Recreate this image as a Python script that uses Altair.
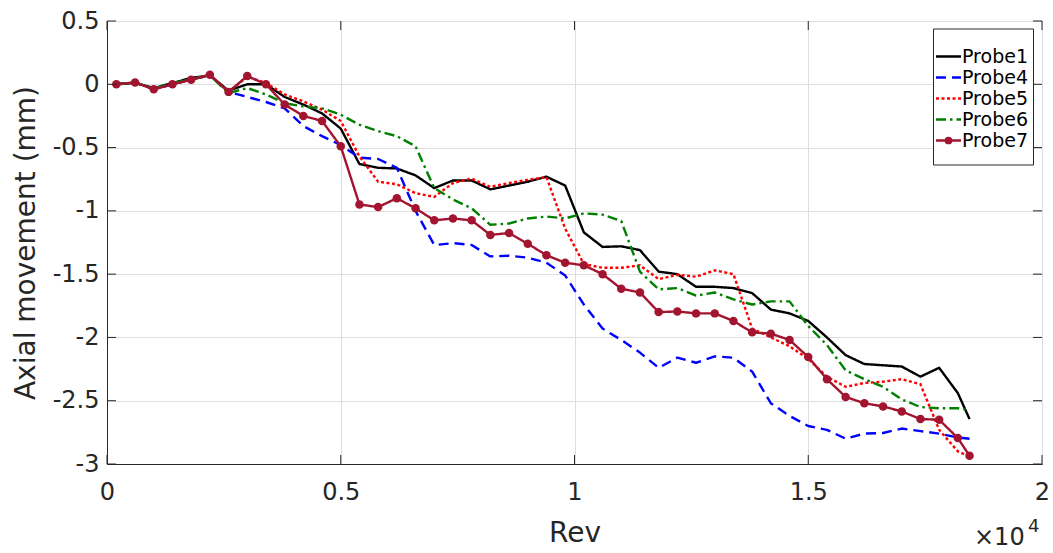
import altair as alt
import pandas as pd

# ---------------- data ----------------
rev = [200, 600, 1000, 1400, 1800, 2200, 2600, 3000, 3400, 3800, 4200, 4600,
       5000, 5400, 5800, 6200, 6600, 7000, 7400, 7800, 8200, 8600, 9000, 9400,
       9800, 10200, 10600, 11000, 11400, 11800, 12200, 12600, 13000, 13400,
       13800, 14200, 14600, 15000, 15400, 15800, 16200, 16600, 17000, 17400,
       17800, 18200, 18450]

probe1 = [0, 0.01, -0.03, 0.01, 0.05, 0.07, -0.05, 0.0, 0.0, -0.10, -0.16, -0.23,
          -0.35, -0.63, -0.66, -0.665, -0.72, -0.82, -0.76, -0.76, -0.83, -0.80,
          -0.77, -0.73, -0.80, -1.17, -1.285, -1.28, -1.31, -1.48, -1.50, -1.60,
          -1.60, -1.61, -1.65, -1.78, -1.81, -1.87, -2.0, -2.14, -2.21, -2.22,
          -2.23, -2.31, -2.24, -2.44, -2.645]
probe4 = [0, 0.015, -0.04, 0.0, 0.04, 0.07, -0.06, -0.10, -0.14, -0.19, -0.33, -0.41,
          -0.48, -0.58, -0.59, -0.66, -1.0, -1.27, -1.255, -1.27, -1.36, -1.355,
          -1.37, -1.41, -1.51, -1.74, -1.93, -2.02, -2.12, -2.24, -2.16, -2.20,
          -2.15, -2.16, -2.27, -2.52, -2.62, -2.70, -2.73, -2.80, -2.76, -2.755,
          -2.72, -2.74, -2.76, -2.79, -2.80]
probe5 = [0, 0.015, -0.04, 0.0, 0.04, 0.075, -0.06, 0.06, 0.01, -0.08, -0.135, -0.2,
          -0.29, -0.57, -0.77, -0.79, -0.86, -0.89, -0.78, -0.745, -0.81, -0.78,
          -0.755, -0.733, -1.14, -1.42, -1.45, -1.45, -1.43, -1.54, -1.505, -1.52,
          -1.47, -1.50, -1.93, -2.0, -2.07, -2.17, -2.31, -2.39, -2.36, -2.35,
          -2.33, -2.37, -2.73, -2.90, -2.94]
probe6 = [0, 0.015, -0.035, 0.01, 0.04, 0.07, -0.07, -0.03, -0.08, -0.15, -0.175, -0.19,
          -0.24, -0.32, -0.37, -0.41, -0.49, -0.82, -0.91, -0.98, -1.11, -1.10,
          -1.06, -1.045, -1.06, -1.02, -1.03, -1.08, -1.48, -1.62, -1.61, -1.67,
          -1.645, -1.70, -1.74, -1.715, -1.715, -1.91, -2.06, -2.26, -2.33, -2.39,
          -2.49, -2.55, -2.56, -2.56, -2.575]
probe7 = [0, 0.015, -0.04, 0.0, 0.035, 0.075, -0.06, 0.065, 0.0, -0.16, -0.25, -0.29,
          -0.49, -0.95, -0.97, -0.90, -0.98, -1.075, -1.06, -1.075, -1.19, -1.175,
          -1.26, -1.35, -1.41, -1.43, -1.50, -1.615, -1.645, -1.80, -1.795, -1.81,
          -1.81, -1.87, -1.96, -1.97, -2.02, -2.155, -2.33, -2.47, -2.52, -2.545,
          -2.585, -2.645, -2.65, -2.795, -2.935]

probes = ["Probe1", "Probe4", "Probe5", "Probe6", "Probe7"]
colors = ["#000000", "#0000FF", "#FF0000", "#008000", "#A2142F"]
dashes = [[1, 0], [10, 6], [3, 2.5], [10, 4, 2.5, 4], [1, 0]]
widths = [2.4, 2.4, 3.2, 2.4, 2.8]

x_ticks = [0, 5000, 10000, 15000, 20000]
y_ticks = [-3, -2.5, -2, -1.5, -1, -0.5, 0, 0.5]

series = {"Probe1": probe1, "Probe4": probe4, "Probe5": probe5,
          "Probe6": probe6, "Probe7": probe7}
rows = []
for name in probes:
    for r, v in zip(rev, series[name]):
        rows.append({"rev": r, "mm": v, "probe": name})
df = pd.DataFrame(rows)

W, H = 935, 443
FONT = "DejaVu Sans"
AX = "#262626"

xscale = alt.Scale(domain=[0, 20000], nice=False, zero=False)
yscale = alt.Scale(domain=[-3, 0.5], nice=False, zero=False)
cscale = alt.Scale(domain=probes, range=colors)
dscale = alt.Scale(domain=probes, range=dashes)
wscale = alt.Scale(domain=probes, range=widths)

lines = alt.Chart(df).mark_line(strokeCap="butt", strokeJoin="round").encode(
    x=alt.X("rev:Q", scale=xscale, title="Rev",
            axis=alt.Axis(values=x_ticks, labelExpr="datum.value / 10000 + ''",
                          ticks=False, labelPadding=16, titlePadding=15,
                          grid=True)),
    y=alt.Y("mm:Q", scale=yscale, title="Axial movement (mm)",
            axis=alt.Axis(values=y_ticks, labelExpr="datum.value + ''",
                          ticks=False, labelPadding=8, titlePadding=12,
                          grid=True)),
    color=alt.Color("probe:N", scale=cscale, legend=None),
    strokeDash=alt.StrokeDash("probe:N", scale=dscale, legend=None),
    strokeWidth=alt.StrokeWidth("probe:N", scale=wscale, legend=None),
    order=alt.Order("rev:Q"),
)

points = alt.Chart(df).transform_filter(alt.datum.probe == "Probe7").mark_circle(
    size=72, opacity=1, color="#A2142F").encode(
    x=alt.X("rev:Q", scale=xscale),
    y=alt.Y("mm:Q", scale=yscale),
)

# inward tick marks on all four sides
ydf = pd.DataFrame({"v": y_ticks})
xdf = pd.DataFrame({"v": x_ticks})
tick_left = alt.Chart(ydf).mark_rule(color=AX, strokeWidth=1).encode(
    y=alt.Y("v:Q", scale=yscale), x=alt.value(0), x2=alt.value(9))
tick_right = alt.Chart(ydf).mark_rule(color=AX, strokeWidth=1).encode(
    y=alt.Y("v:Q", scale=yscale), x=alt.value(W - 9), x2=alt.value(W))
tick_bottom = alt.Chart(xdf).mark_rule(color=AX, strokeWidth=1).encode(
    x=alt.X("v:Q", scale=xscale), y=alt.value(H - 9), y2=alt.value(H))
tick_top = alt.Chart(xdf).mark_rule(color=AX, strokeWidth=1).encode(
    x=alt.X("v:Q", scale=xscale), y=alt.value(0), y2=alt.value(9))

main = alt.layer(lines, points, tick_left, tick_right, tick_bottom, tick_top)

# ---------------- legend ----------------
ldf = pd.DataFrame({"probe": probes})
lyscale = alt.Scale(domain=probes, range=[25, 130], padding=0)
box = alt.Chart(pd.DataFrame({"k": [0]})).mark_rect(
    fill="white", stroke=AX, strokeWidth=1).encode(
    x=alt.value(826.5), x2=alt.value(926.5), y=alt.value(8), y2=alt.value(144))
lrule = alt.Chart(ldf).mark_rule(strokeCap="butt").encode(
    x=alt.value(829), x2=alt.value(854),
    y=alt.Y("probe:N", scale=lyscale, axis=None),
    color=alt.Color("probe:N", scale=cscale, legend=None),
    strokeDash=alt.StrokeDash("probe:N", scale=dscale, legend=None),
    strokeWidth=alt.StrokeWidth("probe:N", scale=wscale, legend=None),
)
lpoint = alt.Chart(ldf).transform_filter(alt.datum.probe == "Probe7").mark_circle(
    size=60, opacity=1, color="#A2142F").encode(
    x=alt.value(841.5), y=alt.Y("probe:N", scale=lyscale, axis=None))
ltext = alt.Chart(ldf).mark_text(
    align="left", baseline="middle", font=FONT, fontSize=19, color="#000000").encode(
    x=alt.value(855), y=alt.Y("probe:N", scale=lyscale, axis=None),
    text="probe:N")
legend = alt.layer(box, lrule, lpoint, ltext)

# ---------------- x10^4 exponent ----------------
exp_df = pd.DataFrame({"base": ["×10"], "sup": ["4"]})
exp_base = alt.Chart(exp_df).mark_text(
    align="left", baseline="alphabetic", font=FONT, fontSize=24, color=AX).encode(
    x=alt.value(867), y=alt.value(524), text="base:N")
exp_sup = alt.Chart(exp_df).mark_text(
    align="left", baseline="alphabetic", font=FONT, fontSize=18, color=AX).encode(
    x=alt.value(921), y=alt.value(511), text="sup:N")
expo = alt.layer(exp_base, exp_sup)

chart = alt.layer(main, legend, expo).resolve_scale(
    x="independent", y="independent"
).properties(
    width=W, height=H,
    background="white",
    padding={"left": 107, "top": 21, "right": 11, "bottom": 89},
    autosize=alt.AutoSizeParams(type="none"),
).configure_view(
    stroke=AX, strokeWidth=1
).configure_axis(
    domainColor=AX, domainWidth=1,
    gridColor="#dedede", gridWidth=1,
    labelFont=FONT, labelFontSize=24, labelColor=AX,
    titleFont=FONT, titleFontSize=28, titleColor=AX, titleFontWeight="normal",
    labelFlush=False, labelOverlap=False,
)

chart.save("out.html", embed_options={"renderer": "svg", "actions": False})
